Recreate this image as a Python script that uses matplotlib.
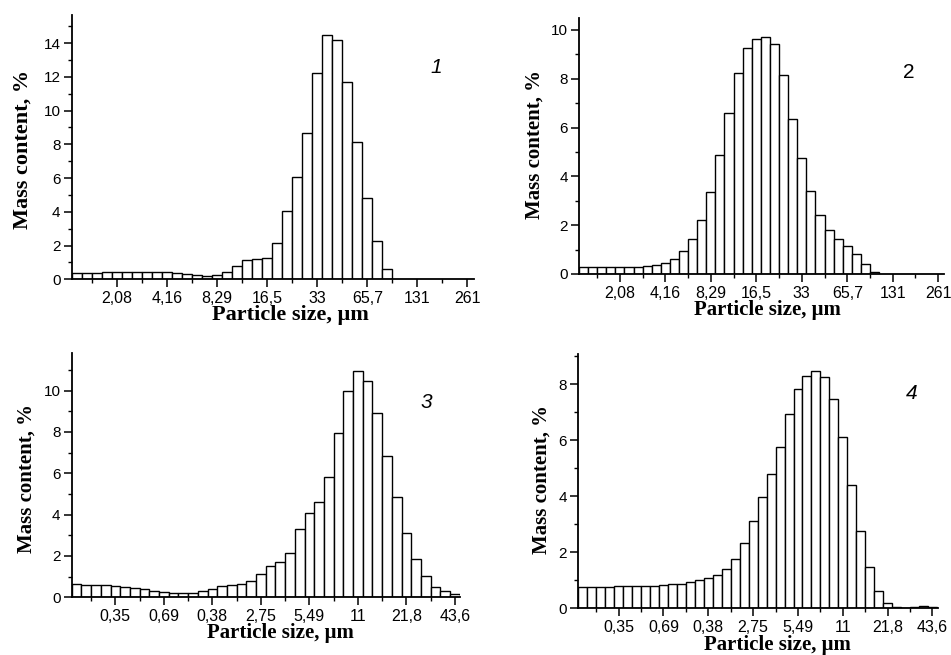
import numpy as np
import matplotlib
matplotlib.use("Agg")
import matplotlib.pyplot as plt

# ---- data ----
labels_12 = ["2,08", "4,16", "8,29", "16,5", "33", "65,7", "131", "261"]
labels_34 = ["0,35", "0,69", "0,38", "2,75", "5,49", "11", "21,8", "43,6"]

mass_1 = [0.39, 0.39, 0.39, 0.41, 0.41, 0.45, 0.45, 0.45, 0.45, 0.43,
          0.40, 0.34, 0.28, 0.22, 0.28, 0.45, 0.81, 1.15, 1.20, 1.28,
          2.17, 4.05, 6.04, 8.69, 12.2, 14.47, 14.2, 11.67, 8.12, 4.8,
          2.25, 0.63]
mass_2 = [0.29, 0.29, 0.29, 0.29, 0.29, 0.29, 0.29, 0.33, 0.37, 0.45,
          0.61, 0.94, 1.42, 2.21, 3.36, 4.88, 6.61, 8.22, 9.26, 9.64,
          9.70, 9.43, 8.14, 6.34, 4.75, 3.42, 2.40, 1.79, 1.43, 1.16,
          0.82, 0.41, 0.08]
mass_3 = [0.63, 0.60, 0.58, 0.58, 0.55, 0.52, 0.45, 0.39, 0.32, 0.26,
          0.21, 0.19, 0.21, 0.29, 0.42, 0.53, 0.60, 0.65, 0.81, 1.15,
          1.52, 1.69, 2.16, 3.31, 4.06, 4.60, 5.81, 7.94, 9.97, 10.94,
          10.47, 8.90, 6.85, 4.84, 3.13, 1.84, 1.03, 0.52, 0.29, 0.16]
mass_4 = [0.77, 0.77, 0.77, 0.77, 0.78, 0.78, 0.78, 0.80, 0.80, 0.82,
          0.85, 0.88, 0.93, 1.00, 1.07, 1.20, 1.42, 1.77, 2.33, 3.10,
          3.96, 4.79, 5.76, 6.94, 7.82, 8.30, 8.48, 8.26, 7.48, 6.10,
          4.39, 2.75, 1.46, 0.61, 0.18, 0.04, 0.02, 0.06, 0.07, 0.06]

panels = [
    dict(data=mass_1, labels=labels_12, num="1", italic=True,
         rect=[0.0754, 0.5736, 0.4225, 0.4035], ytop=15.66, xright=40.1, ymaj=14,
         npos=(0.908, 0.80), xlab=(0.545, -0.135), ylab=(-0.121, 0.493), lsize=16),
    dict(data=mass_2, labels=labels_12, num="2", italic=False,
         rect=[0.6088, 0.5817, 0.3835, 0.3904], ytop=10.48, xright=40.1, ymaj=10,
         npos=(0.905, 0.787), xlab=(0.517, -0.141), ylab=(-0.121, 0.508), lsize=15),
    dict(data=mass_3, labels=labels_34, num="3", italic=True,
         rect=[0.0754, 0.0881, 0.4080, 0.3725], ytop=11.8, xright=40.0, ymaj=10,
         npos=(0.915, 0.80), xlab=(0.537, -0.146), ylab=(-0.115, 0.485), lsize=15),
    dict(data=mass_4, labels=labels_34, num="4", italic=True,
         rect=[0.6081, 0.0713, 0.3781, 0.3882], ytop=9.08, xright=40.1, ymaj=8,
         npos=(0.927, 0.845), xlab=(0.554, -0.144), ylab=(-0.102, 0.508), lsize=15),
]

sans = ["Liberation Sans", "DejaVu Sans"]
serif = ["Liberation Serif", "DejaVu Serif"]

fig = plt.figure(figsize=(9.51, 6.55), dpi=100)
fig.patch.set_facecolor("white")

for p in panels:
    ax = fig.add_axes(p["rect"])
    y = p["data"]
    x = np.arange(len(y))
    ax.bar(x, y, width=1.0, align="edge", facecolor="white",
           edgecolor="black", linewidth=1.0, zorder=2)
    ax.set_xlim(0, p["xright"])
    ax.set_ylim(0, p["ytop"])
    ax.spines["top"].set_visible(False)
    ax.spines["right"].set_visible(False)
    for s in ("left", "bottom"):
        ax.spines[s].set_linewidth(1.3)
        ax.spines[s].set_zorder(3)
    ax.set_xticks(4.5 + 5 * np.arange(len(p["labels"])))
    ax.set_xticklabels(p["labels"], fontfamily=sans, fontsize=11.5)
    ax.set_xticks(2.0 + 5 * np.arange(len(p["labels"])), minor=True)
    ymaj = np.arange(0, p["ymaj"] + 1, 2)
    ax.set_yticks(ymaj)
    ax.set_yticklabels([str(v) for v in ymaj], fontfamily=sans, fontsize=11)
    ymin = np.arange(1, p["ytop"], 2)
    ax.set_yticks(ymin, minor=True)
    ax.tick_params(which="major", direction="out", length=5.5, width=1.1, pad=2.5)
    ax.tick_params(which="minor", direction="out", length=3.2, width=1.0)
    ax.tick_params(axis="x", which="major", pad=3)
    ax.text(p["npos"][0], p["npos"][1], p["num"], transform=ax.transAxes,
            ha="center", va="center", fontsize=15, fontfamily=sans,
            style="italic" if p["italic"] else "normal")
    ax.text(p["xlab"][0], p["xlab"][1], "Particle size, μm", transform=ax.transAxes,
            ha="center", va="center", fontsize=p["lsize"], fontweight="bold",
            fontfamily=serif)
    ax.text(p["ylab"][0], p["ylab"][1], "Mass content, %", transform=ax.transAxes,
            ha="center", va="center", rotation=90, fontsize=p["lsize"],
            fontweight="bold", fontfamily=serif)

fig.savefig("out.png", dpi=100, facecolor="white")
